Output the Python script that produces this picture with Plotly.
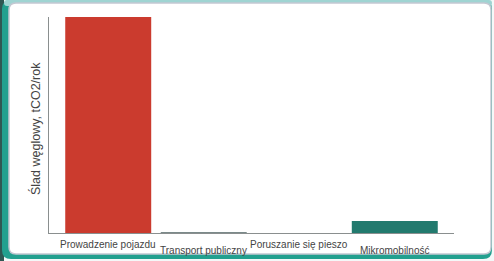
import plotly.graph_objects as go

categories = ["Prowadzenie pojazdu", "Transport publiczny", "Poruszanie się pieszo", "Mikromobilność"]
values = [2.2, 0.009, 0.0, 0.122]
colors = ["#cb3b2e", "#7b8a8a", "#cccccc", "#227a6e"]
y_title = "Ślad węglowy, tCO2/rok"

W, H = 494, 261
L, R, T, B = 49, 40, 17, 28
pw, ph = W - L - R, H - T - B


def px(x):
    return (x - L) / pw


def py(y):
    return (H - B - y) / ph


def rrect(x0, y0, x1, y1, r):
    X0, X1 = px(x0), px(x1)
    Y0, Y1 = py(y0), py(y1)
    rx, ry = r / pw, r / ph
    return (f"M{X0 + rx},{Y0} L{X1 - rx},{Y0} Q{X1},{Y0} {X1},{Y0 - ry} "
            f"L{X1},{Y1 + ry} Q{X1},{Y1} {X1 - rx},{Y1} L{X0 + rx},{Y1} "
            f"Q{X0},{Y1} {X0},{Y1 + ry} L{X0},{Y0 - ry} Q{X0},{Y0} {X0 + rx},{Y0} Z")


fig = go.Figure(go.Bar(
    x=categories, y=values, marker=dict(color=colors, line=dict(width=0)),
    width=0.9, hoverinfo="skip"))

shapes = [
    dict(type="rect", xref="paper", yref="paper", x0=px(0), x1=px(W), y0=py(0), y1=py(H),
         fillcolor="#f4f8f8", line=dict(width=0), layer="below"),
    dict(type="rect", xref="paper", yref="paper", x0=px(0), x1=px(4), y0=py(0), y1=py(H),
         fillcolor="#2f5753", line=dict(width=0), layer="below"),
    dict(type="path", xref="paper", yref="paper", path=rrect(2, 0, 492, 259, 9),
         fillcolor="#22a08f", line=dict(width=0), layer="below"),
    dict(type="path", xref="paper", yref="paper", path=rrect(4, 0, 492, 6, 3),
         fillcolor="#9fd4d2", line=dict(width=0), layer="below"),
    dict(type="path", xref="paper", yref="paper", path=rrect(9, 3, 491, 254, 7),
         fillcolor="#ffffff", line=dict(color="#c4c8d2", width=1.5), layer="below"),
]

annotations = []
for i, c in enumerate(categories):
    annotations.append(dict(
        x=c, xref="x", y=0, yref="paper", yanchor="middle", xanchor="center",
        yshift=-11 if i % 2 == 0 else -17, showarrow=False, text=c,
        font=dict(family="Liberation Sans, Arial, sans-serif", size=10, color="#444444")))
annotations.append(dict(
    x=px(35), y=py(129), xref="paper", yref="paper", textangle=-90, showarrow=False,
    text=y_title, xanchor="center", yanchor="middle",
    font=dict(family="Liberation Sans, Arial, sans-serif", size=12.5, color="#444444")))

fig.update_layout(
    width=W, height=H, margin=dict(l=L, r=R, t=T, b=B, pad=0),
    paper_bgcolor="#ffffff", plot_bgcolor="rgba(0,0,0,0)",
    showlegend=False, shapes=shapes, annotations=annotations,
    xaxis=dict(range=[-0.62, 3.62], showticklabels=False, ticks="", showgrid=False,
               showline=True, linecolor="#8a8f8f", linewidth=1, zeroline=False, fixedrange=True),
    yaxis=dict(range=[0, values[0]], showticklabels=False, ticks="", showgrid=False,
               showline=True, linecolor="#8a8f8f", linewidth=1, zeroline=False, fixedrange=True),
)

fig.write_html("out.html", config={"displayModeBar": False},
               post_script="document.body.style.margin='0';document.body.style.overflow='hidden';")
